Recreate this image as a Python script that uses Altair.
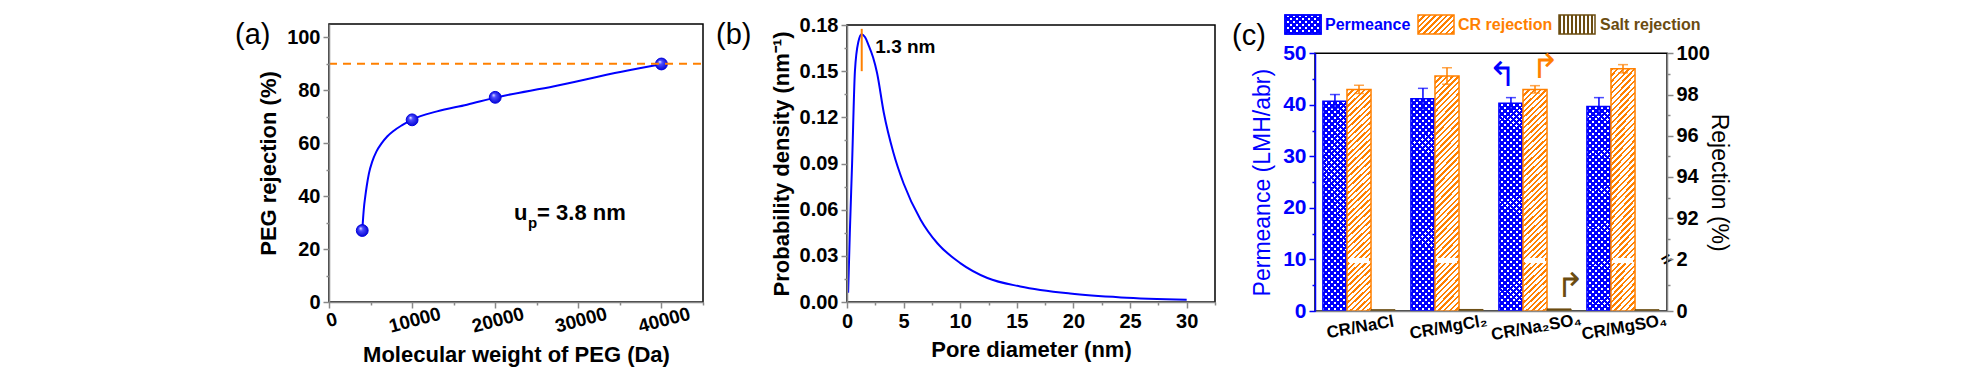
import math
import altair as alt
import pandas as pd

# ---------------- data ----------------
# (a) PEG rejection
peg_mw = [4000, 10000, 20000, 40000]
peg_rej = [27.0, 68.8, 77.3, 89.9]
fit_mw = [4000, 4100, 4200, 4350, 4550, 4800, 5200, 5700, 6300, 7000, 7800, 8800, 10000,
          13000, 16600, 20000, 27100, 35200, 40000]
fit_rej = [27.0, 31.5, 35.5, 39.5, 44.0, 48.5, 53.0, 56.8, 59.8, 62.5, 64.7, 66.8, 68.9,
           72.0, 74.5, 77.2, 81.5, 87.0, 89.8]
cutoff_rej = 90

# (b) pore size distribution
pore_d = [0.1, 0.25, 0.45, 0.7, 1.0, 1.3, 1.6, 1.9, 2.3, 2.65, 3.25, 4.1, 5.0, 6.5, 8.0,
          10.0, 12.4, 15.3, 19.7, 24.2, 30.0]
pore_pdf = [0.006, 0.045, 0.09, 0.15, 0.169, 0.174, 0.172, 0.167, 0.159, 0.149, 0.123, 0.097,
            0.077, 0.0535, 0.038, 0.0253, 0.0156, 0.0101, 0.0055, 0.003, 0.0015]
pore_peak = 1.3

# (c) separation performance
cats = ["CR/NaCl", "CR/MgCl\u2082", "CR/Na\u2082SO\u2084", "CR/MgSO\u2084"]
perm = [40.7, 41.2, 40.3, 39.7]
perm_err = [1.3, 2.0, 1.1, 1.7]
cr_rej = [98.25, 98.9, 98.25, 99.25]
cr_err = [0.2, 0.4, 0.18, 0.2]
salt_rej = [0.05, 0.06, 0.08, 0.05]
series = ["perm", "cr", "salt"]

# ---------------- style ----------------
FONT = "Liberation Sans, Arial, Helvetica, sans-serif"
BLUE = "#0000FF"
ORANGE = "#FF8000"
BROWN = "#6B4C11"
W_ALL, H_ALL = 1960, 368


def hatch(color, w, h, period, frac, kind, gap="rgba(255,255,255,0)"):
    if kind == "|":
        n = w / period
        x1, y1, x2, y2 = 0, 0, 1, 0
    else:
        r = w / h
        b = (1 + r) / (1 + r * r)
        a = r * b
        n = (w + h) / math.sqrt(2) / period
        if kind == "/":
            x1, y1, x2, y2 = 0, 0, a, b
        else:
            x1, y1, x2, y2 = 1, 0, 1 - a, b
    stops = []
    k = 0
    while k < n:
        t0 = k / n
        t1 = min((k + frac) / n, 1)
        t2 = min((k + 1) / n, 1)
        stops += [(t0, color), (t1, color), (t1, gap), (t2, gap)]
        k += 1
    return alt.LinearGradient(
        gradient="linear",
        stops=[alt.GradientStop(offset=round(o, 5), color=c) for o, c in stops],
        x1=x1, y1=y1, x2=x2, y2=y2,
    )


def tsize(test):
    return {"condition": {"test": test, "value": 6}, "value": 3}


one = pd.DataFrame({"k": [0]})


def label(text, x, y, size=28, weight="normal", color="black", align="left", baseline="alphabetic", angle=0):
    kw = dict(text=text, font=FONT, fontSize=size, fontWeight=weight, color=color,
              align=align, baseline=baseline)
    if angle:
        kw["angle"] = angle
    return alt.Chart(one).mark_text(**kw).encode(x=alt.value(x), y=alt.value(y))


# ---------------- scales ----------------
ax_s = alt.Scale(domain=[0, 45000], range=[321, 695], nice=False, zero=False)
ay_s = alt.Scale(domain=[0, 105], range=[294, 16], nice=False, zero=False)
bx_s = alt.Scale(domain=[0, 32.5], range=[839, 1207], nice=False, zero=False)
by_s = alt.Scale(domain=[0, 0.18], range=[294, 17], nice=False, zero=False)
cx_s = alt.Scale(type="band", domain=cats, range=[1307, 1659], paddingInner=0.18, paddingOuter=0.09)
cxf_s = alt.Scale(domain=[0, 1], range=[1307, 1659], nice=False, zero=False)
co_s = alt.Scale(type="band", domain=series, paddingInner=0, paddingOuter=0)
cy_s = alt.Scale(domain=[0, 50], range=[303, 45.3], nice=False, zero=False)

common_ax = dict(labelFont=FONT, titleFont=FONT, labelFontWeight="bold", titleFontWeight="bold",
                 grid=False, domainWidth=1.5, tickWidth=1.5, labelPadding=3, zindex=1,
                 labelOverlap=False, labelFlush=False)

axA_x = alt.Axis(orient="bottom", offset=-74, values=list(range(0, 45001, 5000)), format="d",
                 labelExpr="datum.value % 10000 == 0 && datum.value < 45000 ? datum.label : ''",
                 tickSize=tsize("datum.value % 10000 == 0"), labelAngle=345, labelAlign="center",
                 labelBaseline="top", labelFontSize=19, title="Molecular weight of PEG (Da)",
                 titleFontSize=22, titlePadding=8, **common_ax)
axA_y = alt.Axis(orient="left", offset=-321, values=list(range(0, 101, 10)),
                 labelExpr="datum.value % 20 == 0 ? datum.label : ''",
                 tickSize=tsize("datum.value % 20 == 0"), labelFontSize=20,
                 title="PEG rejection (%)", titleFontSize=22, titlePadding=6, **common_ax)

axB_x = alt.Axis(orient="bottom", offset=-74, values=[i * 2.5 for i in range(14)], format="d",
                 labelExpr="datum.value % 5 == 0 && datum.value <= 30 ? datum.label : ''",
                 tickSize=tsize("datum.value % 5 == 0"), labelFontSize=20,
                 title="Pore diameter (nm)", titleFontSize=22, titlePadding=8, **common_ax)
axB_y = alt.Axis(orient="left", offset=-839, values=[round(i * 0.015, 3) for i in range(13)], format=".2f",
                 labelExpr="round(datum.value * 1000) % 30 == 0 ? datum.label : ''",
                 tickSize=tsize("round(datum.value * 1000) % 30 == 0"), labelFontSize=20,
                 title="Probability density (nm\u207b\u00b9)", titleFontSize=22, titlePadding=6, **common_ax)

axC_x = alt.Axis(orient="bottom", offset=-65, ticks=False, labelAngle=350, labelAlign="center",
                 labelBaseline="top", labelPadding=8, labelFontSize=17, title=None,
                 **{k: v for k, v in common_ax.items() if k != "labelPadding"})
axC_y = alt.Axis(orient="left", offset=-1307, values=list(range(0, 51, 5)),
                 labelExpr="datum.value % 10 == 0 ? datum.label : ''",
                 tickSize=tsize("datum.value % 10 == 0"), labelFontSize=21,
                 labelColor=BLUE, domainColor=BLUE, tickColor=BLUE, titleColor=BLUE,
                 title="Permeance (LMH/abr)", titleFontSize=23, titlePadding=8,
                 **{k: v for k, v in common_ax.items() if k != "titleFontWeight"}, titleFontWeight="normal")
axC_r = alt.Axis(orient="right", offset=-301, values=[0, 5, 10, 14, 18, 22, 26, 30, 34, 38, 42, 46, 50],
                 labelExpr="datum.value == 0 ? '0' : datum.value == 10 ? '2' : "
                           "(datum.value >= 18 && (datum.value - 18) % 8 == 0) ? '' + (90 + (datum.value - 10) / 4) : ''",
                 tickSize=tsize("indexof([0, 10, 18, 26, 34, 42, 50], datum.value) >= 0"), labelFontSize=20,
                 title="Rejection (%)", titleFontSize=23, titlePadding=-3,
                 **{k: v for k, v in common_ax.items() if k != "titleFontWeight"}, titleFontWeight="normal")

layers = []

# ---------------- panel (a) ----------------
fit_df = pd.DataFrame({"mw": fit_mw, "rej": fit_rej})
pts_df = pd.DataFrame({"mw": peg_mw, "rej": peg_rej})

layers.append(alt.Chart(one).mark_rect(fillOpacity=0, stroke="black", strokeWidth=1.5).encode(
    x=alt.XDatum(0, scale=ax_s, axis=None), x2=alt.X2Datum(45000),
    y=alt.YDatum(0, scale=ay_s, axis=None), y2=alt.Y2Datum(105)))
layers.append(alt.Chart(fit_df).mark_line(color=BLUE, strokeWidth=2, interpolate="monotone").encode(
    x=alt.X("mw:Q", scale=ax_s, axis=axA_x), y=alt.Y("rej:Q", scale=ay_s, axis=axA_y)))
sphere = alt.RadialGradient(gradient="radial", x1=0.35, y1=0.3, r1=0, x2=0.5, y2=0.5, r2=0.55,
                            stops=[alt.GradientStop(offset=0, color="#ffffff"),
                                   alt.GradientStop(offset=0.3, color="#4d4dff"),
                                   alt.GradientStop(offset=1, color="#0000d0")])
layers.append(alt.Chart(pts_df).mark_circle(fill=sphere, opacity=1, size=140, stroke="#0000e0", strokeWidth=1).encode(
    x=alt.X("mw:Q", scale=ax_s, axis=None), y=alt.Y("rej:Q", scale=ay_s, axis=None)))
layers.append(alt.Chart(one).mark_rule(color=ORANGE, strokeWidth=2, strokeDash=[8, 6]).encode(
    x=alt.XDatum(0, scale=ax_s, axis=None), x2=alt.X2Datum(45000),
    y=alt.YDatum(cutoff_rej, scale=ay_s, axis=None)))
for txt, size, dx, dy in [("u", 22, 0, 0), ("p", 15, 14, 8), ("= 3.8 nm", 22, 23, 0)]:
    layers.append(alt.Chart(one).mark_text(text=txt, font=FONT, fontSize=size, fontWeight="bold",
                                           align="left", baseline="alphabetic", dx=dx, dy=dy).encode(
        x=alt.XDatum(22270, scale=ax_s, axis=None), y=alt.YDatum(31, scale=ay_s, axis=None)))
layers.append(label("(a)", 227, 36, size=29))

# ---------------- panel (b) ----------------
pore_df = pd.DataFrame({"d": pore_d, "p": pore_pdf})
layers.append(alt.Chart(one).mark_rect(fillOpacity=0, stroke="black", strokeWidth=1.5).encode(
    x=alt.XDatum(0, scale=bx_s, axis=None), x2=alt.X2Datum(32.5),
    y=alt.YDatum(0, scale=by_s, axis=None), y2=alt.Y2Datum(0.18)))
layers.append(alt.Chart(pore_df).mark_line(color=BLUE, strokeWidth=2, interpolate="monotone").encode(
    x=alt.X("d:Q", scale=bx_s, axis=axB_x), y=alt.Y("p:Q", scale=by_s, axis=axB_y)))
layers.append(alt.Chart(one).mark_rule(color=ORANGE, strokeWidth=2).encode(
    x=alt.XDatum(pore_peak, scale=bx_s, axis=None),
    y=alt.YDatum(0.15, scale=by_s, axis=None), y2=alt.Y2Datum(0.1775)))
layers.append(alt.Chart(one).mark_text(text="1.3 nm", font=FONT, fontSize=19, fontWeight="bold",
                                       align="left", baseline="alphabetic").encode(
    x=alt.XDatum(2.5, scale=bx_s, axis=None), y=alt.YDatum(0.1618, scale=by_s, axis=None)))
layers.append(label("(b)", 708, 36, size=29))

# ---------------- panel (c) ----------------
pc = pd.DataFrame({"cat": cats * 3, "s": ["perm"] * 4 + ["cr"] * 4 + ["salt"] * 4,
                   "v": perm + cr_rej + salt_rej, "e": perm_err + cr_err + [0] * 4})


def brk(e):
    return f"(({e}) <= 2 ? ({e}) * 5 : 10 + (({e}) - 90) * 4)"


base_c = alt.Chart(pc).transform_calculate(
    d=f"datum.s == 'perm' ? datum.v : {brk('datum.v')}",
    lo=f"datum.s == 'perm' ? datum.v - datum.e : {brk('datum.v - datum.e')}",
    hi=f"datum.s == 'perm' ? datum.v + datum.e : {brk('datum.v + datum.e')}",
)


def cxe(axis=None):
    return alt.X("cat:N", scale=cx_s, axis=axis, sort=cats)


xo = alt.XOffset("s:N", scale=co_s, sort=series)

# frame + right axis
layers.append(alt.Chart(one).mark_rect(fillOpacity=0, stroke="black", strokeWidth=1.5).encode(
    x=alt.XDatum(0, scale=cxf_s, axis=None), x2=alt.X2Datum(1),
    y=alt.YDatum(0, scale=cy_s, axis=axC_r), y2=alt.Y2Datum(50)))

blue1 = hatch(BLUE, 24, 208, 4.2, 0.5, "/", gap="white")
blue2 = hatch(BLUE, 24, 208, 4.2, 0.5, "\\")
orng = hatch(ORANGE, 24, 230, 4.0, 0.42, "/", gap="white")

layers.append(base_c.transform_filter("datum.s == 'perm'").mark_bar(fill=blue1).encode(
    x=cxe(axC_x), xOffset=xo, y=alt.Y("d:Q", scale=cy_s, axis=axC_y), y2=alt.Y2Datum(0)))
layers.append(base_c.transform_filter("datum.s == 'perm'").mark_bar(fill=blue2, stroke=BLUE, strokeWidth=1.5).encode(
    x=cxe(), xOffset=xo, y=alt.Y("d:Q", scale=cy_s, axis=None), y2=alt.Y2Datum(0)))
layers.append(base_c.transform_filter("datum.s == 'cr'").mark_bar(fill=orng, stroke=ORANGE, strokeWidth=1.5).encode(
    x=cxe(), xOffset=xo, y=alt.Y("d:Q", scale=cy_s, axis=None), y2=alt.Y2Datum(0)))
layers.append(base_c.transform_filter("datum.s == 'salt'").mark_bar(fill=BROWN, stroke=BROWN, strokeWidth=1).encode(
    x=cxe(), xOffset=xo, y=alt.Y("d:Q", scale=cy_s, axis=None), y2=alt.Y2Datum(0)))
# axis break across the rejection bars
layers.append(base_c.transform_filter("datum.s == 'cr'").mark_bar(fill="white", width=20).encode(
    x=cxe(), xOffset=xo, y=alt.YDatum(9.3, scale=cy_s, axis=None), y2=alt.Y2Datum(10.3)))
# error bars
for s, col in [("perm", BLUE), ("cr", ORANGE)]:
    f = base_c.transform_filter(f"datum.s == '{s}'")
    layers.append(f.mark_rule(color=col, strokeWidth=1.5).encode(
        x=cxe(), xOffset=xo, y=alt.Y("lo:Q", scale=cy_s, axis=None), y2="hi:Q"))
    for fld in ["lo", "hi"]:
        layers.append(f.mark_tick(color=col, thickness=1.5, size=10).encode(
            x=cxe(), xOffset=xo, y=alt.Y(f"{fld}:Q", scale=cy_s, axis=None)))

# break mark on the right axis
layers.append(label("=", 1659, 252, size=18, weight="bold", align="center", baseline="middle", angle=330))
# curved arrows
layers.append(label("\u21b0", 1494, 68, size=34, color=BLUE, align="center", baseline="middle"))
layers.append(label("\u21b1", 1537, 60, size=34, color=ORANGE, align="center", baseline="middle"))
layers.append(label("\u21b1", 1562, 279, size=34, color=BROWN, align="center", baseline="middle"))

# legend
def box(x0, fill, stroke):
    return alt.Chart(one).mark_rect(fill=fill, stroke=stroke, strokeWidth=1.5).encode(
        x=alt.value(x0), x2=alt.value(x0 + 36), y=alt.value(7), y2=alt.value(26))


layers.append(box(1277, hatch(BLUE, 36, 19, 4.2, 0.5, "/", gap="white"), BLUE))
layers.append(box(1277, hatch(BLUE, 36, 19, 4.2, 0.5, "\\"), BLUE))
layers.append(box(1410, hatch(ORANGE, 36, 19, 4.0, 0.42, "/", gap="white"), ORANGE))
layers.append(box(1551, hatch(BROWN, 36, 19, 4.0, 0.4, "|", gap="white"), BROWN))
layers.append(label("Permeance", 1317, 17, size=16, weight="bold", color=BLUE, baseline="middle"))
layers.append(label("CR rejection", 1450, 17, size=16, weight="bold", color=ORANGE, baseline="middle"))
layers.append(label("Salt rejection", 1592, 17, size=16, weight="bold", color=BROWN, baseline="middle"))
layers.append(label("(c)", 1224, 37, size=29))

chart = (
    alt.layer(*layers)
    .resolve_scale(x="independent", y="independent", xOffset="independent")
    .resolve_axis(x="independent", y="independent")
    .properties(width=W_ALL, height=H_ALL, autosize=alt.AutoSizeParams(type="none"), padding=0,
                background="white")
    .configure_view(stroke=None)
)

chart.save("out.html", embed_options={"renderer": "svg", "actions": False})
